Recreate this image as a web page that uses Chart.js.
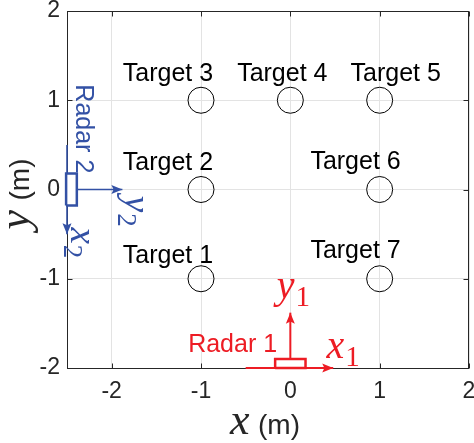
<!DOCTYPE html>
<html><head><meta charset="utf-8">
<script src="https://cdn.jsdelivr.net/npm/chart.js@4/dist/chart.umd.min.js"></script>
<style>html,body{margin:0;padding:0;background:#fff;}canvas{display:block;}</style>
</head><body>
<canvas id="c" width="474" height="443"></canvas>
<script>
// ---- data ----
const xTicks = [-2, -1, 0, 1, 2];
const yTicks = [-2, -1, 0, 1, 2];
const targetNames = ['Target 1','Target 2','Target 3','Target 4','Target 5','Target 6','Target 7'];
const targetX = [-1, -1, -1, 0, 1, 1, 1];
const targetY = [-1, 0, 1, 1, 1, 0, -1];
// label anchors (text centre x, baseline y) in data units
const targetLabelX = [-1.37, -1.37, -1.37, -0.09, 1.18, 0.73, 0.73];
const targetLabelY = [-0.82, 0.22, 1.22, 1.22, 1.22, 0.235, -0.77];
// radar 1 (red) geometry
const radar1RectX = [-0.17, 0.17, 0.17, -0.17, -0.17];
const radar1RectY = [-2, -2, -1.9, -1.9, -2];
const radar1AxisX = { x: [-0.5, 0.48], y: [-2, -2] };
const radar1AxisY = { x: [0, 0], y: [-1.9, -1.38] };
// radar 2 (blue) geometry
const radar2RectX = [-2.51, -2.39, -2.39, -2.51, -2.51];
const radar2RectY = [-0.18, -0.18, 0.18, 0.18, -0.18];
const radar2AxisX = { x: [-2.5, -2.5], y: [0.5, -0.5] };
const radar2AxisY = { x: [-2.39, -1.88], y: [0, 0] };

const RED = '#ed1c24', BLUE = '#3351a5', AX = '#262626';
const pts = (xs, ys) => xs.map((v, i) => ({ x: v, y: ys[i] }));

const lineDs = (xs, ys, color, w, arrow) => ({
  type: 'scatter', data: pts(xs, ys), showLine: true, pointRadius: 0,
  borderColor: color, borderWidth: w, fill: false, clip: false, order: 3, arrow
});
const rectDs = (xs, ys, color) => ({
  type: 'scatter', data: pts(xs, ys), showLine: true, pointRadius: 0, tension: 0,
  borderColor: color, borderWidth: 2.5, backgroundColor: '#fff', fill: 'shape',
  clip: false, order: 2
});

const frame = {
  id: 'frame',
  beforeDatasetsDraw(chart) {
    const { ctx, chartArea: a, scales: { x, y } } = chart;
    ctx.save();
    ctx.strokeStyle = AX; ctx.lineWidth = 1;
    const L = a.left + 0.5, R = a.right - 0.5, T = a.top + 0.5, B = a.bottom + 0.5;
    ctx.strokeRect(L, T, R - L, B - T);
    ctx.beginPath();
    xTicks.forEach(v => { const p = Math.round(x.getPixelForValue(v)) + 0.5;
      ctx.moveTo(p, B); ctx.lineTo(p, B - 5); ctx.moveTo(p, T); ctx.lineTo(p, T + 5); });
    yTicks.forEach(v => { const p = Math.round(y.getPixelForValue(v)) + 0.5;
      ctx.moveTo(L, p); ctx.lineTo(L + 5, p); ctx.moveTo(R, p); ctx.lineTo(R - 5, p); });
    ctx.stroke();
    ctx.restore();
  }
};

function mathLabel(ctx, px, py, letter, sub, color, rot, size) {
  ctx.save(); ctx.translate(px, py); ctx.rotate(rot);
  ctx.fillStyle = color; ctx.textAlign = 'left'; ctx.textBaseline = 'alphabetic';
  ctx.font = `italic ${size}px "Liberation Serif"`;
  ctx.fillText(letter, 0, 0);
  const w = ctx.measureText(letter).width;
  ctx.font = `${Math.round(size * 0.72)}px "Liberation Serif"`;
  ctx.fillText(sub, w + 1, size * 0.2);
  ctx.restore();
}

const overlay = {
  id: 'overlay',
  afterDatasetsDraw(chart) {
    const { ctx, chartArea: a, scales: { x, y } } = chart;
    ctx.save();
    // arrowheads
    chart.data.datasets.forEach(ds => {
      if (!ds.arrow) return;
      const n = ds.data.length;
      const p1 = { x: x.getPixelForValue(ds.data[n - 2].x), y: y.getPixelForValue(ds.data[n - 2].y) };
      const p2 = { x: x.getPixelForValue(ds.data[n - 1].x), y: y.getPixelForValue(ds.data[n - 1].y) };
      const ang = Math.atan2(p2.y - p1.y, p2.x - p1.x);
      const len = 11, hw = 4.5;
      ctx.save(); ctx.translate(p2.x, p2.y); ctx.rotate(ang);
      ctx.fillStyle = ds.borderColor;
      ctx.beginPath(); ctx.moveTo(0, 0); ctx.lineTo(-len, -hw); ctx.lineTo(-len * 0.8, 0); ctx.lineTo(-len, hw); ctx.closePath(); ctx.fill();
      ctx.restore();
    });
    // target labels
    ctx.fillStyle = '#000'; ctx.font = '25px "Liberation Sans"';
    ctx.textAlign = 'center'; ctx.textBaseline = 'alphabetic';
    targetNames.forEach((t, i) => ctx.fillText(t, x.getPixelForValue(targetLabelX[i]), y.getPixelForValue(targetLabelY[i])));
    // radar 1 labels
    ctx.fillStyle = RED;
    ctx.fillText('Radar 1', x.getPixelForValue(-0.646), y.getPixelForValue(-1.821));
    mathLabel(ctx, x.getPixelForValue(0.406), y.getPixelForValue(-1.888), 'x', '1', RED, 0, 40);
    mathLabel(ctx, x.getPixelForValue(-0.153), y.getPixelForValue(-1.216), 'y', '1', RED, 0, 40);
    // radar 2 labels (rotated)
    ctx.save();
    ctx.translate(x.getPixelForValue(-2.403), y.getPixelForValue(0.68));
    ctx.rotate(Math.PI / 2);
    ctx.fillStyle = BLUE; ctx.font = '25px "Liberation Sans"'; ctx.textAlign = 'center';
    ctx.fillText('Radar 2', 0, 0);
    ctx.restore();
    mathLabel(ctx, x.getPixelForValue(-1.85), y.getPixelForValue(-0.07), 'y', '2', BLUE, Math.PI / 2, 37);
    mathLabel(ctx, x.getPixelForValue(-2.455), y.getPixelForValue(-0.425), 'x', '2', BLUE, Math.PI / 2, 37);
    // axis titles
    ctx.fillStyle = AX; ctx.textAlign = 'left';
    const cx = (a.left + a.right) / 2;
    ctx.font = 'italic 44px "Liberation Serif"';
    ctx.fillText('x', cx - 38, 434);
    ctx.font = '28px "Liberation Sans"';
    ctx.fillText('(m)', cx - 10, 434);
    const cy = (a.top + a.bottom) / 2;
    ctx.save(); ctx.translate(29, cy + 40); ctx.rotate(-Math.PI / 2);
    ctx.font = 'italic 44px "Liberation Serif"';
    ctx.fillText('y', 0, 0);
    ctx.font = '28px "Liberation Sans"';
    ctx.fillText('(m)', 29, 0);
    ctx.restore();
    ctx.restore();
  }
};

const noPad = s => {
  s.paddingLeft = 0; s.paddingRight = 0; s.paddingTop = 0; s.paddingBottom = 0;
  s.getPadding = () => ({ left: 0, top: 0, right: 0, bottom: 0 });
};

new Chart(document.getElementById('c'), {
  type: 'scatter',
  data: {
    datasets: [
      { data: pts(targetX, targetY), pointRadius: 13, pointHoverRadius: 13, borderColor: '#000', borderWidth: 1,
        backgroundColor: 'rgba(0,0,0,0)', order: 1 },
      rectDs(radar1RectX, radar1RectY, RED),
      rectDs(radar2RectX, radar2RectY, BLUE),
      lineDs(radar1AxisX.x, radar1AxisX.y, RED, 2, true),
      lineDs(radar1AxisY.x, radar1AxisY.y, RED, 2, true),
      lineDs(radar2AxisX.x, radar2AxisX.y, BLUE, 1.6, true),
      lineDs(radar2AxisY.x, radar2AxisY.y, BLUE, 1.6, true)
    ]
  },
  options: {
    responsive: false, animation: false, devicePixelRatio: 1,
    layout: { autoPadding: false, padding: { top: 11, right: 5, left: 0, bottom: 0 } },
    plugins: { legend: { display: false }, tooltip: { enabled: false } },
    scales: {
      x: {
        type: 'linear', min: -2.5, max: 2,
        afterBuildTicks: s => { s.ticks = xTicks.map(v => ({ value: v })); },
        afterFit: s => { s.height = 75; noPad(s); },
        ticks: { font: { family: 'Liberation Sans', size: 23 }, color: AX, padding: 10, maxRotation: 0, autoSkip: false },
        grid: { color: '#e3e3e3', drawTicks: false }, border: { display: false }
      },
      y: {
        type: 'linear', min: -2, max: 2,
        afterBuildTicks: s => { s.ticks = yTicks.map(v => ({ value: v })); },
        afterFit: s => { s.width = 67; noPad(s); },
        ticks: { font: { family: 'Liberation Sans', size: 23 }, color: AX, padding: 7, autoSkip: false },
        grid: { color: '#e3e3e3', drawTicks: false }, border: { display: false }
      }
    }
  },
  plugins: [frame, overlay]
});
</script>
</body></html>
